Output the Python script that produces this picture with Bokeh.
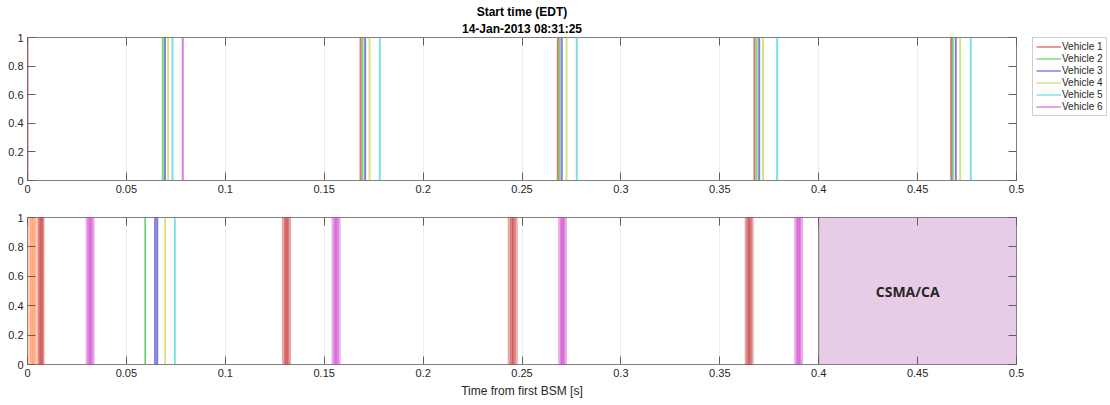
from bokeh.plotting import figure
from bokeh.layouts import column, row
from bokeh.models import (Range1d, FixedTicker, CustomJSTickFormatter, LinearAxis,
                          Title, Legend, LegendItem, ColumnDataSource)
from bokeh.core.properties import value
from bokeh.embed import file_html
from bokeh.resources import INLINE

FONT = "Liberation Sans"

# ---------------- data ----------------
vehicles = ["Vehicle 1", "Vehicle 2", "Vehicle 3", "Vehicle 4", "Vehicle 5", "Vehicle 6"]
colors = ["#cc2a2a", "#2ec42e", "#3a3ad0", "#cccc3a", "#3ad0d0", "#cc3acc"]

# top panel: start times of each vehicle's BSM [s]
top_v1 = [0.0, 0.1684, 0.2681, 0.3675, 0.4670]
top_v2 = [0.0684, 0.1694, 0.2690, 0.3686, 0.4678]
top_v3 = [0.0695, 0.1707, 0.2701, 0.3699, 0.4693]
top_v4 = [0.0711, 0.1729, 0.2725, 0.3719, 0.4715]
top_v5 = [0.0733, 0.1781, 0.2777, 0.3790, 0.4769]
top_v6 = [0.0785]
top_starts = [top_v1, top_v2, top_v3, top_v4, top_v5, top_v6]

# bottom panel: transmissions (start, end) [s]
orange_start = [0.0, 0.0014, 0.0029]
orange_end = [0.0025, 0.0039, 0.0054]
red_start = [0.0054, 0.0059, 0.0064, 0.1289, 0.1297, 0.1305,
             0.2430, 0.2440, 0.2450, 0.3628, 0.3636, 0.3644]
red_end = [0.0074, 0.0079, 0.0084, 0.1314, 0.1322, 0.1330,
           0.2456, 0.2466, 0.2476, 0.3653, 0.3661, 0.3669]
mag_start = [0.0296, 0.0304, 0.0312, 0.1539, 0.1548, 0.1556,
             0.2685, 0.2693, 0.2700, 0.3878, 0.3886, 0.3893]
mag_end = [0.0321, 0.0329, 0.0337, 0.1564, 0.1573, 0.1581,
           0.2710, 0.2717, 0.2725, 0.3903, 0.3910, 0.3918]
blue_start = [0.0642]
blue_end = [0.0659]
green_line = [0.0595]
yellow_line = [0.0696]
cyan_line = [0.0745]
csma_start = [0.4]
csma_end = [0.5]
csma_label = ["CSMA/CA"]

x_ticks = [0, 0.05, 0.1, 0.15, 0.2, 0.25, 0.3, 0.35, 0.4, 0.45, 0.5]
y_ticks = [0, 0.2, 0.4, 0.6, 0.8, 1]

# ---------------- helpers ----------------
fmt_code = "return String(Math.round(tick*1000)/1000);"
TXT = "#262626"
EDGE = "#808080"


def style(p):
    p.x_range = Range1d(0, 0.5)
    p.y_range = Range1d(0, 1)
    p.outline_line_color = EDGE
    p.outline_line_width = 1
    p.background_fill_color = "white"
    p.border_fill_color = "white"
    p.xgrid.grid_line_color = "#ececec"
    p.xgrid.ticker = FixedTicker(ticks=x_ticks)
    p.ygrid.grid_line_color = None
    for ax, ticks in ((p.below[0], x_ticks), (p.left[0], y_ticks)):
        ax.ticker = FixedTicker(ticks=ticks)
        ax.formatter = CustomJSTickFormatter(code=fmt_code)
        ax.major_tick_in = 8
        ax.major_tick_out = 0
        ax.minor_tick_line_color = None
        ax.major_tick_line_color = "#606060"
        ax.axis_line_color = None
        ax.major_label_text_font = FONT
        ax.major_label_text_font_size = "11px"
        ax.major_label_text_color = TXT
        ax.major_label_standoff = 4
    # mirrored ticks (box on), no labels
    for loc, ticks in (("above", x_ticks), ("right", y_ticks)):
        a = LinearAxis(ticker=FixedTicker(ticks=ticks),
                       formatter=CustomJSTickFormatter(code="return '';"))
        a.major_tick_in = 8
        a.major_tick_out = 0
        a.minor_tick_line_color = None
        a.major_tick_line_color = "#606060"
        a.axis_line_color = None
        a.major_label_text_font_size = "1px"
        a.major_label_text_alpha = 0
        a.major_label_standoff = 0
        p.add_layout(a, loc)


# ---------------- top figure ----------------
p1 = figure(width=1032, height=200, output_backend="svg", toolbar_location=None,
            min_border_left=27, min_border_right=16, min_border_top=37, min_border_bottom=20,
            title=None)
style(p1)

for col, xs in zip(colors, top_starts):
    src = ColumnDataSource(dict(x=xs, y0=[0] * len(xs), y1=[1] * len(xs)))
    p1.segment(x0="x", y0="y0", x1="x", y1="y1", source=src,
               line_color=col, line_width=2, line_alpha=0.65)

p1.add_layout(Title(text="14-Jan-2013 08:31:25", align="center", text_font=FONT,
                    text_font_size="12px", text_font_style="bold", text_color="#000000",
                    standoff=3), "above")
p1.add_layout(Title(text="Start time (EDT)", align="center", text_font=FONT,
                    text_font_size="12px", text_font_style="bold", text_color="#000000",
                    standoff=0), "above")

# ---------------- legend figure ----------------
pleg = figure(width=78, height=200, output_backend="svg", toolbar_location=None,
              x_axis_type=None, y_axis_type=None, min_border_left=0, min_border_right=0,
              min_border_top=37, min_border_bottom=0, title=None,
              x_range=Range1d(0, 1), y_range=Range1d(0, 1))
pleg.outline_line_color = None
pleg.xgrid.grid_line_color = None
pleg.ygrid.grid_line_color = None
items = []
for name, col in zip(vehicles, colors):
    # legend proxy: a line kept outside the visible range
    r = pleg.line(x=[5, 6], y=[5, 6], line_color=col, line_width=1.2, line_alpha=0.8)
    items.append(LegendItem(label=name, renderers=[r]))
legend = Legend(items=items, location="top_left", margin=0, padding=3, spacing=1,
                label_height=11, glyph_height=11, glyph_width=25, label_standoff=1,
                label_text_font=FONT, label_text_font_size="10px", label_text_color=TXT,
                border_line_color="#a0a0a0", border_line_width=1,
                background_fill_color="white", background_fill_alpha=1)
pleg.add_layout(legend, "center")

# ---------------- bottom figure ----------------
p2 = figure(width=1110, height=205, output_backend="svg", toolbar_location=None,
            min_border_left=27, min_border_right=94, min_border_top=17, min_border_bottom=41,
            title=None)
style(p2)
xax = p2.below[0]
xax.axis_label = "Time from first BSM [s]"
xax.axis_label_text_font = FONT
xax.axis_label_text_font_size = "12px"
xax.axis_label_text_font_style = "normal"
xax.axis_label_text_color = TXT
xax.axis_label_standoff = 4

p2.quad(left=csma_start, right=csma_end, bottom=0, top=1,
        fill_color="#e6cce6", line_color="#6e6e6e", line_width=1)
p2.text(x=[0.445], y=[0.5], text=csma_label, text_font=value("Open Sans"), text_font_size="14px",
        text_font_style="bold", text_color="#262626", text_align="center",
        text_baseline="middle")

p2.quad(left=orange_start, right=orange_end, bottom=0, top=1,
        fill_color="#ff7a3a", fill_alpha=0.35, line_color="#ff7a3a", line_alpha=0.5, line_width=0.6)
p2.quad(left=red_start, right=red_end, bottom=0, top=1,
        fill_color="#c42a2a", fill_alpha=0.33, line_color="#c42a2a", line_alpha=0.5, line_width=0.6)
p2.quad(left=mag_start, right=mag_end, bottom=0, top=1,
        fill_color="#cc3acc", fill_alpha=0.33, line_color="#cc3acc", line_alpha=0.5, line_width=0.6)
p2.quad(left=blue_start, right=blue_end, bottom=0, top=1,
        fill_color="#3a3ad0", fill_alpha=0.6, line_color="#3a3ad0", line_alpha=0.8, line_width=0.6)
for xs, col in ((green_line, colors[1]), (yellow_line, colors[3]), (cyan_line, colors[4])):
    p2.segment(x0=xs, y0=[0], x1=xs, y1=[1], line_color=col, line_width=1.6, line_alpha=0.75)

layout = column(row(p1, pleg, spacing=0), p2, spacing=0)
open("out.html", "w").write(file_html(layout, INLINE))
